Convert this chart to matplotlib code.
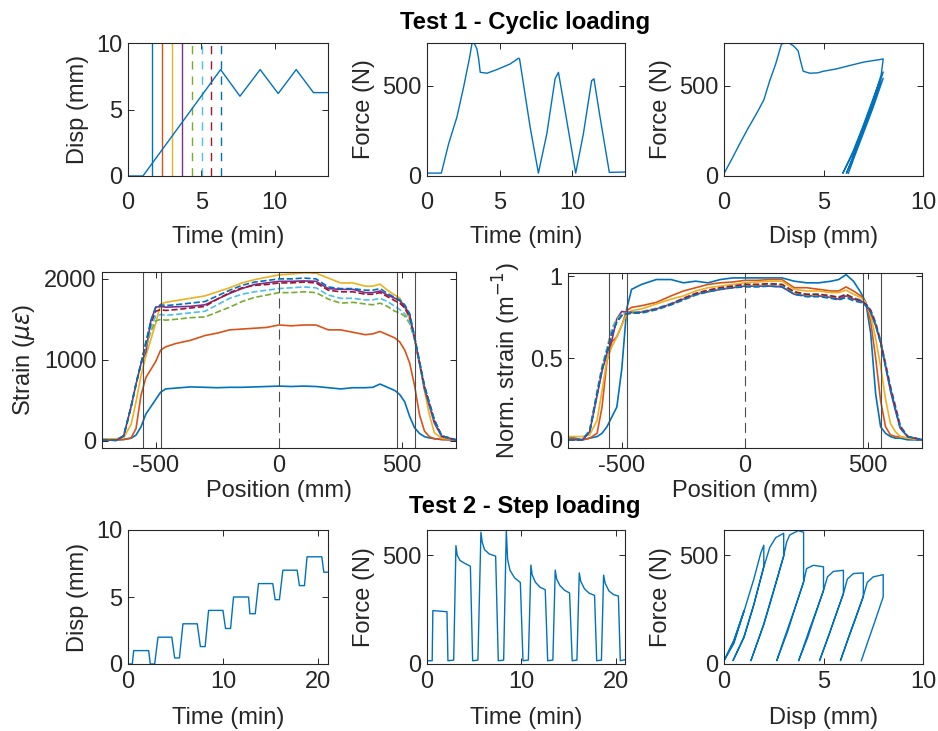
import matplotlib
matplotlib.use('Agg')
import matplotlib.pyplot as plt

plt.rcParams['font.family'] = ['Liberation Sans', 'DejaVu Sans']
plt.rcParams['axes.unicode_minus'] = False

# MATLAB default colour order
colors = ['#0072BD', '#D95319', '#EDB120', '#7E2F8E', '#77AC30', '#4DBEEE', '#A2142F', '#0072BD']
styles = ['-', '-', '-', '-', '--', '--', '--', '--']

# Test 1 - cyclic loading
cyc_t = [0, 1.02, 6.32, 7.64, 9.02, 10.25, 11.48, 12.66, 13.65]
cyc_disp = [0, 0, 8.0, 6.0, 8.0, 6.2, 8.0, 6.27, 6.27]
snap_t = [1.66, 2.32, 3.0, 3.68, 4.36, 5.02, 5.68, 6.32]

cyc_ft = [0, 0.99, 1.49, 2.06, 2.52, 2.94, 3.1, 3.26, 3.44, 3.56, 3.67, 4.13, 4.82, 5.73, 6.31,
          6.38, 7.11, 7.68, 8.26, 8.83, 9.06, 9.4, 10.25, 10.78, 11.35, 11.51, 11.93, 12.57, 13.65]
cyc_force = [16, 16, 178, 325, 490, 656, 733, 733, 702, 647, 573, 568, 588, 619, 651,
             648, 270, 16, 233, 537, 573, 417, 16, 233, 527, 537, 325, 20, 22]

cyc_fd_disp = [0, 0.4, 0.79, 1.2, 1.63, 2.0, 2.3, 2.6, 2.89, 3.1, 3.3, 3.5, 3.72, 3.84, 3.98,
               4.31, 4.7, 5.0, 5.65, 6.3, 7.0, 7.5, 7.75, 8.0,
               7.9, 7.5, 7.0, 6.5, 5.97,
               6.5, 7.0, 7.5, 8.0,
               7.5, 7.0, 6.6, 6.15,
               6.6, 7.0, 7.5, 8.0,
               7.5, 7.0, 6.6, 6.25]
cyc_fd_force = [13, 95, 178, 262, 344, 420, 527, 620, 730, 735, 733, 718, 693, 638, 579,
                568, 570, 579, 592, 610, 629, 638, 642, 647,
                560, 420, 270, 130, 15,
                140, 280, 430, 575,
                400, 250, 130, 15,
                140, 260, 410, 540,
                380, 235, 120, 15]

# strain profiles
pos = [-718, -660, -630, -600, -580, -560, -540, -520, -500, -480,
       -460, -420, -360, -300, -250, -200, -150, -100, -50, 0,
       50, 100, 150, 200, 250, 300, 350, 380, 410, 440,
       470, 490, 510, 530, 550, 570, 590, 610, 630, 660, 718]

strain_1 = [20, 10, 15, 30, 70, 170, 330, 420, 510, 600,
            640, 650, 665, 660, 655, 660, 660, 665, 670, 675,
            670, 675, 670, 655, 640, 655, 655, 660, 700, 660,
            620, 570, 480, 300, 160, 90, 50, 35, 25, 15, 10]
strain_2 = [15, 10, 15, 35, 150, 560, 780, 880, 980, 1120,
            1160, 1200, 1240, 1300, 1330, 1370, 1380, 1390, 1400, 1430,
            1420, 1430, 1430, 1370, 1370, 1340, 1310, 1320, 1350, 1310,
            1270, 1220, 1120, 960, 680, 320, 120, 50, 25, 15, 10]
strain_3 = [20, 25, 40, 200, 480, 800, 1050, 1250, 1450, 1690,
            1710, 1730, 1760, 1790, 1840, 1890, 1950, 1990, 2020, 2050,
            2060, 2075, 2070, 2010, 1950, 1950, 1910, 1910, 1935, 1860,
            1800, 1760, 1650, 1500, 1250, 950, 620, 320, 100, 30, 15]
strain_4 = [10, 5, 60, 420, 700, 950, 1100, 1480, 1650, 1660,
            1650, 1655, 1660, 1680, 1750, 1820, 1880, 1930, 1950, 1970,
            1970, 1975, 1970, 1880, 1870, 1870, 1830, 1830, 1850, 1800,
            1760, 1730, 1660, 1560, 1260, 960, 640, 430, 220, 50, 10]
strain_5 = [10, 5, 60, 420, 700, 950, 1150, 1350, 1480, 1500,
            1490, 1500, 1520, 1530, 1590, 1650, 1720, 1770, 1800, 1830,
            1830, 1840, 1830, 1750, 1700, 1710, 1690, 1680, 1700, 1660,
            1600, 1580, 1540, 1450, 1250, 960, 660, 450, 250, 60, 10]
strain_6 = [10, 5, 60, 420, 700, 950, 1180, 1400, 1540, 1560,
            1550, 1560, 1580, 1600, 1680, 1760, 1810, 1840, 1860, 1880,
            1890, 1900, 1890, 1800, 1760, 1760, 1740, 1740, 1760, 1720,
            1660, 1620, 1570, 1470, 1260, 970, 680, 470, 260, 60, 10]
strain_7 = [10, 5, 60, 420, 700, 950, 1200, 1450, 1600, 1620,
            1610, 1620, 1640, 1660, 1750, 1830, 1890, 1920, 1930, 1950,
            1950, 1960, 1950, 1860, 1840, 1840, 1810, 1810, 1830, 1780,
            1730, 1700, 1640, 1530, 1270, 970, 670, 460, 250, 60, 10]
strain_8 = [10, 5, 60, 420, 700, 950, 1220, 1480, 1650, 1680,
            1670, 1680, 1700, 1720, 1790, 1860, 1920, 1960, 1980, 2000,
            2000, 2010, 2000, 1900, 1880, 1880, 1860, 1860, 1880, 1820,
            1770, 1740, 1680, 1570, 1290, 980, 680, 470, 260, 60, 10]

norm_1 = [0.02, 0.0, 0.01, 0.02, 0.04, 0.08, 0.14, 0.2, 0.43, 0.8,
          0.92, 0.95, 0.98, 0.98, 0.96, 0.97, 0.96, 0.98, 0.99, 0.99,
          0.99, 0.99, 0.99, 0.97, 0.96, 0.96, 0.97, 0.98, 1.01, 0.97,
          0.9, 0.84, 0.65, 0.28, 0.08, 0.04, 0.02, 0.01, 0.01, 0.0, 0.0]
norm_2 = [0.01, 0.0, 0.01, 0.04, 0.2, 0.48, 0.6, 0.63, 0.7, 0.79,
          0.81, 0.82, 0.84, 0.88, 0.91, 0.93, 0.95, 0.96, 0.965, 0.975,
          0.975, 0.98, 0.98, 0.93, 0.93, 0.92, 0.91, 0.91, 0.935, 0.91,
          0.88, 0.84, 0.72, 0.5, 0.24, 0.08, 0.03, 0.02, 0.02, 0.01, 0.0]
norm_3 = [0.02, 0.02, 0.03, 0.12, 0.3, 0.49, 0.57, 0.63, 0.7, 0.77,
          0.79, 0.8, 0.83, 0.86, 0.88, 0.91, 0.93, 0.94, 0.95, 0.96,
          0.965, 0.97, 0.97, 0.92, 0.91, 0.91, 0.9, 0.9, 0.915, 0.89,
          0.87, 0.84, 0.76, 0.62, 0.45, 0.25, 0.1, 0.05, 0.02, 0.01, 0.0]
norm_4 = [0.0, 0.0, 0.05, 0.27, 0.42, 0.53, 0.61, 0.74, 0.785, 0.78,
          0.78, 0.78, 0.8, 0.83, 0.86, 0.89, 0.905, 0.92, 0.93, 0.94,
          0.94, 0.94, 0.935, 0.89, 0.88, 0.88, 0.87, 0.86, 0.88, 0.86,
          0.85, 0.83, 0.78, 0.7, 0.6, 0.45, 0.3, 0.18, 0.07, 0.02, 0.0]
norm_5 = [0.0, 0.0, 0.06, 0.3, 0.45, 0.56, 0.68, 0.74, 0.77, 0.77,
          0.775, 0.78, 0.8, 0.83, 0.86, 0.89, 0.91, 0.925, 0.935, 0.945,
          0.945, 0.95, 0.945, 0.9, 0.885, 0.885, 0.875, 0.87, 0.885, 0.865,
          0.85, 0.83, 0.79, 0.71, 0.6, 0.46, 0.32, 0.2, 0.08, 0.02, 0.0]
norm_6 = [0.0, 0.0, 0.06, 0.29, 0.44, 0.55, 0.67, 0.73, 0.765, 0.775,
          0.78, 0.785, 0.805, 0.835, 0.865, 0.895, 0.915, 0.93, 0.94, 0.95,
          0.95, 0.955, 0.95, 0.905, 0.89, 0.89, 0.88, 0.875, 0.89, 0.87,
          0.855, 0.835, 0.795, 0.72, 0.61, 0.47, 0.33, 0.21, 0.09, 0.02, 0.0]
norm_7 = [0.0, 0.0, 0.05, 0.28, 0.43, 0.54, 0.65, 0.72, 0.76, 0.77,
          0.775, 0.78, 0.8, 0.83, 0.865, 0.895, 0.915, 0.93, 0.94, 0.95,
          0.95, 0.955, 0.95, 0.905, 0.89, 0.89, 0.88, 0.87, 0.89, 0.865,
          0.85, 0.83, 0.79, 0.71, 0.6, 0.46, 0.32, 0.2, 0.08, 0.02, 0.0]
norm_8 = [0.0, 0.0, 0.05, 0.28, 0.43, 0.54, 0.65, 0.72, 0.76, 0.77,
          0.775, 0.775, 0.795, 0.825, 0.855, 0.885, 0.905, 0.92, 0.93, 0.935,
          0.935, 0.94, 0.935, 0.89, 0.875, 0.875, 0.865, 0.855, 0.87, 0.85,
          0.84, 0.82, 0.78, 0.7, 0.59, 0.45, 0.31, 0.19, 0.07, 0.02, 0.0]

grip_pos = [-553, -479, 479, 553]

# Test 2 - step loading
step_t = [0, 0.45, 0.6, 2.17, 2.34, 2.8, 3.15, 4.6, 4.9, 5.4, 5.77, 7.27, 7.6, 8.1, 8.46, 9.97, 10.24,
          10.77, 11.08, 12.66, 12.8, 13.36, 13.7, 15.2, 15.45, 15.9, 16.26, 17.76, 18.0, 18.53, 18.8,
          20.35, 20.56, 21.0]
step_disp = [0, 0, 1, 1, 0, 0, 2, 2, 0.45, 0.45, 3, 3, 1.3, 1.3, 4, 4, 2.65,
             2.65, 5, 5, 3.75, 3.75, 6, 6, 4.8, 4.8, 7, 7, 5.85, 5.85, 8,
             8, 6.85, 6.85]

step_ft = [0, 0.55, 0.62, 2.12, 2.22, 2.83, 3.07, 3.2, 3.5, 4.0, 4.6, 4.84, 5.4, 5.72, 5.85, 6.1,
           6.6, 7.28, 7.56, 8.13, 8.41, 8.55, 8.8, 9.3, 9.9, 10.18, 10.75, 11.02, 11.15, 11.5, 12.0,
           12.54, 12.8, 13.35, 13.6, 13.75, 14.1, 14.6, 15.12, 15.4, 15.9, 16.15, 16.3, 16.7, 17.2,
           17.77, 18.0, 18.5, 18.73, 18.9, 19.3, 19.8, 20.3, 20.5, 21.0]
step_force = [15, 15, 245, 240, 15, 18, 543, 500, 475, 462, 449, 15, 18, 605, 560, 525,
              505, 495, 15, 18, 615, 480, 430, 395, 374, 15, 18, 454, 410, 375, 352,
              341, 15, 18, 431, 390, 360, 338, 326, 15, 18, 418, 380, 345, 325,
              315, 15, 18, 408, 370, 335, 318, 312, 15, 20]

step_fd_disp = [0.0, 0.5, 1.0, 1.0, 0.5, 0.0,
                0.5, 1.0, 1.5, 1.85, 2.0, 2.0,
                1.5, 1.0, 0.45,
                1.0, 1.5, 2.05, 2.3, 2.6, 3.0, 3.0,
                2.5, 2.0, 1.35,
                2.0, 2.5, 3.0, 3.15, 3.3, 3.73, 4.0, 4.0,
                3.5, 3.0, 2.65,
                3.2, 3.6, 4.0, 4.15, 4.5, 5.0, 5.0,
                4.6, 4.2, 3.75,
                4.3, 4.7, 5.0, 5.2, 5.5, 6.0, 6.0,
                5.6, 5.2, 4.8,
                5.3, 5.7, 6.0, 6.2, 6.5, 7.0, 7.0,
                6.6, 6.2, 5.85,
                6.4, 6.8, 7.0, 7.2, 7.5, 8.0, 8.0,
                7.6, 7.2, 6.9]
step_fd_force = [15, 105, 245, 240, 95, 15,
                 110, 240, 390, 510, 545, 450,
                 270, 120, 15,
                 125, 275, 460, 535, 580, 600, 495,
                 335, 180, 15,
                 185, 340, 497, 560, 592, 612, 605, 377,
                 240, 110, 15,
                 150, 265, 377, 438, 453, 446, 338,
                 230, 120, 15,
                 160, 260, 338, 400, 425, 430, 323,
                 220, 115, 15,
                 140, 245, 323, 390, 415, 418, 310,
                 205, 105, 15,
                 160, 260, 310, 375, 400, 410, 308,
                 200, 95, 15]

W, H = 938, 731
LINE = '#0072BD'
DARK = '#262626'


def box(l, t, r, b):
    return [l / W, 1 - b / H, (r - l) / W, (b - t) / H]


def style(ax, xpad=8, ypad=4):
    ax.tick_params(direction='in', top=True, right=True, length=4, width=0.7,
                   colors=DARK, labelsize=17)
    ax.tick_params(axis='x', pad=xpad)
    ax.tick_params(axis='y', pad=ypad)
    for sp in ax.spines.values():
        sp.set_color(DARK)
        sp.set_linewidth(0.8)


def labels(ax, xl, yl, xpad, ypad=5):
    ax.set_xlabel(xl, fontsize=17, color=DARK, labelpad=xpad)
    ax.set_ylabel(yl, fontsize=17, color=DARK, labelpad=ypad)


def main():
    fig = plt.figure(figsize=(W / 100, H / 100), dpi=100)

    # ---- Test 1 ----
    ax = fig.add_axes(box(128, 43, 328, 176))
    for i, t in enumerate(snap_t):
        ax.axvline(t, color=colors[i], lw=1.0, ls=styles[i] if i < 4 else (0, (6, 5)))
    ax.plot(cyc_t, cyc_disp, color=LINE, lw=1.0)
    ax.set_xlim(0, 13.65)
    ax.set_ylim(0, 10)
    ax.set_xticks([0, 5, 10])
    ax.set_yticks([0, 5, 10])
    style(ax, xpad=11.5)
    labels(ax, 'Time (min)', 'Disp (mm)', 8.5)

    ax = fig.add_axes(box(427, 43, 625, 176))
    ax.plot(cyc_ft, cyc_force, color=LINE, lw=1.0)
    ax.set_xlim(0, 13.65)
    ax.set_ylim(0, 735)
    ax.set_xticks([0, 5, 10])
    ax.set_yticks([0, 500])
    style(ax, xpad=11.5)
    labels(ax, 'Time (min)', 'Force (N)', 8.5)

    ax = fig.add_axes(box(724, 43, 923, 176))
    ax.plot(cyc_fd_disp, cyc_fd_force, color=LINE, lw=1.0)
    ax.set_xlim(0, 10)
    ax.set_ylim(0, 735)
    ax.set_xticks([0, 5, 10])
    ax.set_yticks([0, 500])
    style(ax, xpad=11.5)
    labels(ax, 'Disp (mm)', 'Force (N)', 8.5)

    fig.text(525 / W, 1 - 22 / H, 'Test 1 - Cyclic loading', ha='center', va='center',
             fontsize=17.2, fontweight='bold')

    # ---- strain profiles ----
    strains = [strain_1, strain_2, strain_3, strain_4, strain_5, strain_6, strain_7, strain_8]
    norms = [norm_1, norm_2, norm_3, norm_4, norm_5, norm_6, norm_7, norm_8]

    ax = fig.add_axes(box(102, 272, 456, 448))
    for i, s in enumerate(strains):
        ax.plot(pos, s, color=colors[i], ls=styles[i], lw=1.2)
    for g in grip_pos:
        ax.axvline(g, color='#4d4d4d', lw=0.8)
    ax.axvline(0, color='#4d4d4d', lw=0.8, ls=(0, (9, 5)))
    ax.set_xlim(-718, 718)
    ax.set_ylim(-90, 2085)
    ax.set_xticks([-500, 0, 500])
    ax.set_yticks([0, 1000, 2000])
    style(ax, xpad=5)
    labels(ax, 'Position (mm)', r'Strain ($\mu\epsilon$)', 2.5)

    ax = fig.add_axes(box(568, 273, 922, 448))
    for i, s in enumerate(norms):
        ax.plot(pos, s, color=colors[i], ls=styles[i], lw=1.2)
    for g in grip_pos:
        ax.axvline(g, color='#4d4d4d', lw=0.8)
    ax.axvline(0, color='#4d4d4d', lw=0.8, ls=(0, (9, 5)))
    ax.set_xlim(-718, 718)
    ax.set_ylim(-0.05, 1.02)
    ax.set_xticks([-500, 0, 500])
    ax.set_yticks([0, 0.5, 1])
    ax.set_yticklabels(['0', '0.5', '1'])
    style(ax, xpad=5)
    labels(ax, 'Position (mm)', r'Norm. strain (m$^{-1}$)', 2.5)

    # ---- Test 2 ----
    ax = fig.add_axes(box(128, 530, 328, 664))
    ax.plot(step_t, step_disp, color=LINE, lw=1.0)
    ax.set_xlim(0, 21)
    ax.set_ylim(0, 10)
    ax.set_xticks([0, 10, 20])
    ax.set_yticks([0, 5, 10])
    style(ax, xpad=5)
    labels(ax, 'Time (min)', 'Disp (mm)', 10)

    ax = fig.add_axes(box(427, 530, 625, 664))
    ax.plot(step_ft, step_force, color=LINE, lw=1.0)
    ax.set_xlim(0, 21)
    ax.set_ylim(0, 615)
    ax.set_xticks([0, 10, 20])
    ax.set_yticks([0, 500])
    style(ax, xpad=5)
    labels(ax, 'Time (min)', 'Force (N)', 10)

    ax = fig.add_axes(box(724, 530, 923, 664))
    ax.plot(step_fd_disp, step_fd_force, color=LINE, lw=1.0)
    ax.set_xlim(0, 10)
    ax.set_ylim(0, 615)
    ax.set_xticks([0, 5, 10])
    ax.set_yticks([0, 500])
    style(ax, xpad=5)
    labels(ax, 'Disp (mm)', 'Force (N)', 10)

    fig.text(525 / W, 1 - 507 / H, 'Test 2 - Step loading', ha='center', va='center',
             fontsize=17.2, fontweight='bold')

    fig.savefig('out.png', dpi=100)


if __name__ == '__main__':
    main()
